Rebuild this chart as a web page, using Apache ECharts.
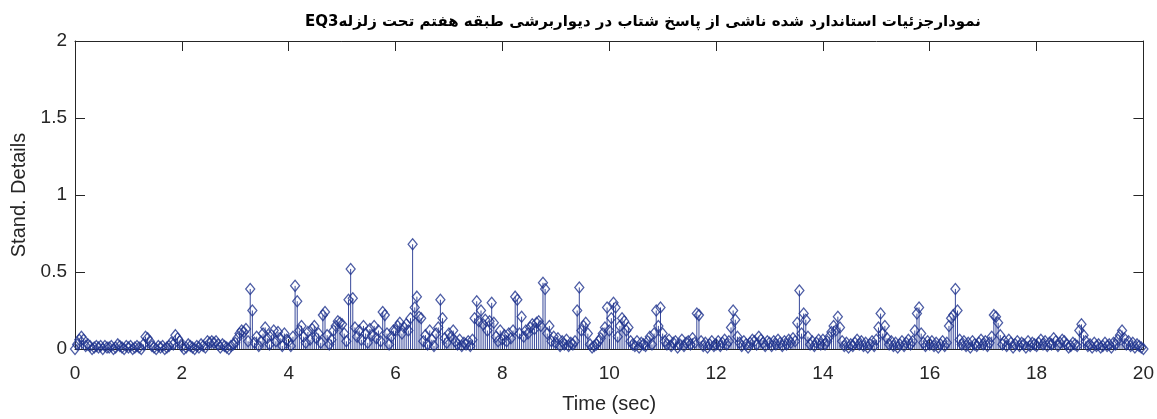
<!DOCTYPE html>
<html>
<head>
<meta charset="utf-8">
<script src="https://cdn.jsdelivr.net/npm/echarts@6/dist/echarts.min.js"></script>
<style>
  html, body { margin: 0; padding: 0; background: #ffffff; }
  #chart { width: 1157px; height: 419px; }
</style>
</head>
<body>
<div id="chart"></div>
<script>
// Standardized detail coefficients, sampled every 0.04 s from 0 to 20 s
const SAMPLE_STEP = 0.04;
const sec00 = [0.00,0.03,0.06,0.08,0.06,0.02,0.03,0.02,0.00,0.01,0.02,0.01,0.02,0.00,0.02,0.01,0.01,0.02,0.00,0.01,0.03,0.02,0.01,0.00,0.02];
const sec01 = [0.01,0.02,0.00,0.01,0.02,0.01,0.00,0.03,0.08,0.07,0.05,0.02,0.01,0.00,0.02,0.01,0.02,0.00,0.01,0.02,0.04,0.03,0.09,0.07,0.05];
const sec02 = [0.02,0.00,0.01,0.03,0.02,0.01,0.00,0.02,0.01,0.03,0.02,0.01,0.05,0.04,0.05,0.04,0.05,0.03,0.01,0.03,0.02,0.01,0.00,0.02,0.03];
const sec03 = [0.04,0.07,0.10,0.12,0.11,0.13,0.05,0.39,0.25,0.04,0.08,0.02,0.05,0.10,0.14,0.07,0.03,0.09,0.12,0.05,0.11,0.07,0.02,0.10,0.06];
const sec04 = [0.05,0.02,0.08,0.41,0.31,0.12,0.15,0.08,0.04,0.11,0.06,0.13,0.15,0.07,0.10,0.04,0.22,0.24,0.09,0.03,0.06,0.12,0.15,0.18,0.17];
const sec05 = [0.16,0.10,0.05,0.32,0.52,0.33,0.14,0.08,0.12,0.06,0.15,0.10,0.04,0.13,0.09,0.15,0.07,0.12,0.05,0.24,0.22,0.10,0.03,0.08,0.12];
const sec06 = [0.12,0.15,0.17,0.10,0.14,0.16,0.12,0.20,0.68,0.27,0.34,0.21,0.20,0.05,0.09,0.03,0.12,0.06,0.02,0.10,0.14,0.32,0.20,0.07,0.04];
const sec07 = [0.10,0.08,0.12,0.05,0.03,0.06,0.02,0.04,0.03,0.05,0.02,0.06,0.20,0.31,0.18,0.25,0.16,0.19,0.12,0.18,0.30,0.17,0.08,0.05,0.12];
const sec08 = [0.06,0.09,0.05,0.10,0.07,0.12,0.34,0.32,0.10,0.21,0.08,0.12,0.10,0.14,0.16,0.13,0.17,0.18,0.15,0.43,0.39,0.10,0.15,0.05,0.08];
const sec09 = [0.04,0.07,0.02,0.05,0.03,0.06,0.02,0.04,0.03,0.05,0.25,0.40,0.12,0.15,0.17,0.10,0.03,0.01,0.02,0.03,0.05,0.07,0.10,0.14,0.27];
const sec10 = [0.12,0.20,0.30,0.27,0.08,0.15,0.20,0.18,0.12,0.14,0.05,0.03,0.02,0.05,0.01,0.04,0.03,0.02,0.05,0.08,0.03,0.10,0.25,0.15,0.27];
const sec11 = [0.10,0.05,0.03,0.06,0.02,0.04,0.05,0.01,0.03,0.06,0.02,0.04,0.05,0.03,0.07,0.04,0.23,0.22,0.05,0.02,0.04,0.01,0.03,0.05,0.02];
const sec12 = [0.03,0.05,0.02,0.04,0.06,0.03,0.05,0.14,0.25,0.19,0.08,0.04,0.02,0.05,0.03,0.01,0.04,0.06,0.05,0.03,0.08,0.06,0.04,0.02,0.05];
const sec13 = [0.04,0.02,0.05,0.03,0.06,0.04,0.02,0.05,0.03,0.06,0.04,0.07,0.05,0.17,0.38,0.10,0.23,0.19,0.08,0.03,0.05,0.02,0.04,0.06,0.03];
const sec14 = [0.06,0.03,0.05,0.08,0.11,0.15,0.12,0.21,0.14,0.05,0.02,0.04,0.01,0.03,0.02,0.04,0.06,0.03,0.05,0.02,0.04,0.01,0.03,0.05,0.02];
const sec15 = [0.06,0.14,0.23,0.10,0.15,0.07,0.03,0.05,0.02,0.04,0.01,0.03,0.05,0.02,0.04,0.06,0.03,0.05,0.12,0.23,0.27,0.10,0.04,0.02,0.05];
const sec16 = [0.03,0.05,0.02,0.04,0.01,0.03,0.05,0.02,0.04,0.15,0.20,0.22,0.39,0.25,0.06,0.03,0.05,0.02,0.04,0.01,0.05,0.03,0.02,0.04,0.06];
const sec17 = [0.03,0.05,0.02,0.04,0.08,0.22,0.21,0.17,0.09,0.03,0.05,0.02,0.06,0.04,0.01,0.03,0.05,0.02,0.04,0.03,0.01,0.05,0.02,0.04,0.03];
const sec18 = [0.02,0.04,0.06,0.03,0.05,0.02,0.04,0.03,0.07,0.05,0.02,0.04,0.06,0.05,0.03,0.01,0.02,0.04,0.03,0.02,0.12,0.16,0.09,0.05,0.02];
const sec19 = [0.03,0.01,0.04,0.02,0.03,0.01,0.02,0.04,0.02,0.03,0.01,0.04,0.03,0.06,0.09,0.12,0.07,0.03,0.05,0.02,0.04,0.01,0.03,0.02,0.01];
const sec20 = [0.00];

const xTicks = [0, 2, 4, 6, 8, 10, 12, 14, 16, 18, 20];
const yTicks = [0, 0.5, 1, 1.5, 2];

const titleText = 'نمودارجزئیات استاندارد شده ناشی از پاسخ شتاب در دیواربرشی طبقه هفتم تحت زلزلهEQ3';
const xName = 'Time (sec)';
const yName = 'Stand. Details';

const values = [].concat(sec00, sec01, sec02, sec03, sec04, sec05, sec06, sec07, sec08, sec09,
  sec10, sec11, sec12, sec13, sec14, sec15, sec16, sec17, sec18, sec19, sec20);
const points = values.map((v, i) => [+(i * SAMPLE_STEP).toFixed(2), v]);

const STEM = '#21348f';
const AXIS = '#262626';
const FONT = '"Liberation Sans", Arial, Helvetica, sans-serif';

const chart = echarts.init(document.getElementById('chart'), null, { renderer: 'canvas' });

const baseX = {
  type: 'value', min: xTicks[0], max: xTicks[xTicks.length - 1], interval: xTicks[1] - xTicks[0],
  splitLine: { show: false },
  axisLine: { show: true, onZero: false, lineStyle: { color: AXIS, width: 1 } },
  axisTick: { show: true, inside: true, length: 10, lineStyle: { color: AXIS } }
};
const baseY = {
  type: 'value', min: yTicks[0], max: yTicks[yTicks.length - 1], interval: yTicks[1] - yTicks[0],
  splitLine: { show: false },
  axisLine: { show: true, onZero: false, lineStyle: { color: AXIS, width: 1 } },
  axisTick: { show: true, inside: true, length: 10, lineStyle: { color: AXIS } }
};

chart.setOption({
  animation: false,
  backgroundColor: '#ffffff',
  title: {
    // embed the Persian title as a right-to-left run
    text: '\u202B' + titleText + '\u202C',
    left: 300, top: 10,
    textStyle: { fontFamily: '"DejaVu Sans", sans-serif', fontWeight: 'bold', fontSize: 15, color: '#000000' }
  },
  grid: { left: 75, right: 13, top: 41, bottom: 67, containLabel: false },
  xAxis: [
    Object.assign({}, baseX, {
      position: 'bottom',
      name: xName, nameLocation: 'middle', nameGap: 45,
      nameTextStyle: { fontFamily: FONT, fontSize: 20, color: AXIS },
      axisLabel: { show: true, margin: 15, fontFamily: FONT, fontSize: 19, color: AXIS }
    }),
    Object.assign({}, baseX, { position: 'top', axisLabel: { show: false } })
  ],
  yAxis: [
    Object.assign({}, baseY, {
      position: 'left',
      name: yName, nameLocation: 'middle', nameGap: 41,
      nameTextStyle: { fontFamily: FONT, fontSize: 20, color: AXIS },
      axisLabel: { show: true, margin: 8, fontFamily: FONT, fontSize: 19, color: AXIS }
    }),
    Object.assign({}, baseY, { position: 'right', axisLabel: { show: false } })
  ],
  series: [
    {
      // stems from the zero baseline up to each value
      type: 'custom',
      xAxisIndex: 0, yAxisIndex: 0,
      data: points,
      renderItem: function (params, api) {
        const p0 = api.coord([api.value(0), 0]);
        const p1 = api.coord([api.value(0), api.value(1)]);
        return {
          type: 'line',
          shape: { x1: p0[0], y1: p0[1], x2: p1[0], y2: p1[1] },
          style: { stroke: STEM, lineWidth: 0.9 }
        };
      },
      z: 2
    },
    {
      // open diamond markers at the tip of each stem
      type: 'scatter',
      xAxisIndex: 0, yAxisIndex: 0,
      data: points,
      symbol: 'diamond',
      symbolSize: [9, 11],
      itemStyle: { color: 'rgba(255,255,255,0)', borderColor: STEM, borderWidth: 1.3 },
      z: 3
    }
  ]
});
</script>
</body>
</html>
